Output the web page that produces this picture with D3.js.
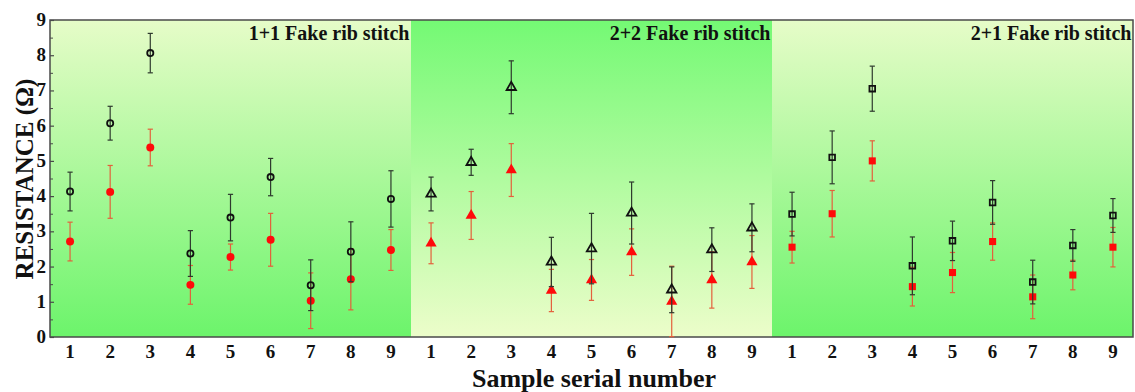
<!DOCTYPE html>
<html>
<head>
<meta charset="utf-8">
<script src="https://cdn.jsdelivr.net/npm/d3@7/dist/d3.min.js"></script>
<style>
  html, body { margin: 0; padding: 0; background: #fff; }
  svg { display: block; }
</style>
</head>
<body>
<svg id="chart" width="1135" height="392"></svg>
<script>
// Sample serial numbers within each stitch group
const samples = [1, 2, 3, 4, 5, 6, 7, 8, 9];
const panelTitles = ["1+1 Fake rib stitch", "2+2 Fake rib stitch", "2+1 Fake rib stitch"];
const yTicks = [0, 1, 2, 3, 4, 5, 6, 7, 8, 9];

// Resistance (Ω), black open markers, with standard deviations
const blackMean = [
  [4.13, 6.07, 8.06, 2.37, 3.39, 4.54, 1.47, 2.42, 3.92],
  [4.06, 4.96, 7.09, 2.13, 2.51, 3.52, 1.34, 2.48, 3.10],
  [3.49, 5.10, 7.05, 2.02, 2.73, 3.82, 1.56, 2.60, 3.45]
];
const blackErr = [
  [0.55, 0.48, 0.56, 0.65, 0.66, 0.53, 0.72, 0.85, 0.80],
  [0.48, 0.37, 0.75, 0.70, 1.00, 0.88, 0.65, 0.62, 0.68],
  [0.62, 0.75, 0.64, 0.82, 0.56, 0.62, 0.62, 0.45, 0.48]
];
// Resistance (Ω), red filled markers, with standard deviations
const redMean = [
  [2.71, 4.12, 5.38, 1.48, 2.27, 2.76, 1.03, 1.64, 2.47],
  [2.66, 3.45, 4.74, 1.32, 1.62, 2.41, 1.01, 1.62, 2.13],
  [2.55, 3.50, 5.00, 1.43, 1.83, 2.71, 1.14, 1.76, 2.55]
];
const redErr = [
  [0.55, 0.75, 0.52, 0.55, 0.37, 0.75, 0.79, 0.87, 0.58],
  [0.58, 0.68, 0.75, 0.60, 0.58, 0.66, 1.00, 0.80, 0.75],
  [0.45, 0.66, 0.57, 0.55, 0.57, 0.53, 0.62, 0.42, 0.56]
];
const markerShapes = [d3.symbolCircle, d3.symbolTriangle, d3.symbolSquare];

const FONT = "'Liberation Serif', 'DejaVu Serif', serif";
const svg = d3.select("#chart");
const plotLeft = 50, plotRight = 1133, plotTop = 20, plotBottom = 337;
const nPanels = panelTitles.length;

function label(sel) {
  return sel.attr("font-family", FONT).style("font-family", FONT)
    .attr("font-weight", "bold").attr("fill", "#111");
}

// One continuous x axis: panel p, sample s sits at p*9 + s
const x = d3.scaleLinear().domain([0.5, nPanels * samples.length + 0.5]).range([plotLeft, plotRight]);
const y = d3.scaleLinear().domain([0, 9]).range([plotBottom, plotTop]);

// Background gradients
const defs = svg.append("defs");
const lightTop = defs.append("linearGradient").attr("id", "lightTop")
  .attr("x1", 0).attr("y1", 0).attr("x2", 0).attr("y2", 1);
lightTop.append("stop").attr("offset", "0%").attr("stop-color", "#e6fcc8");
lightTop.append("stop").attr("offset", "100%").attr("stop-color", "#6cf46b");
const greenTop = defs.append("linearGradient").attr("id", "greenTop")
  .attr("x1", 0).attr("y1", 0).attr("x2", 0).attr("y2", 1);
greenTop.append("stop").attr("offset", "0%").attr("stop-color", "#74f974");
greenTop.append("stop").attr("offset", "100%").attr("stop-color", "#ecfdca");

panelTitles.forEach((t, p) => {
  const x0 = x(p * samples.length + 0.5), x1 = x((p + 1) * samples.length + 0.5);
  svg.append("rect")
    .attr("x", x0).attr("y", plotTop).attr("width", x1 - x0).attr("height", plotBottom - plotTop)
    .attr("fill", p === 1 ? "url(#greenTop)" : "url(#lightTop)");
  svg.append("text")
    .attr("x", x1 - 1.5).attr("y", 40)
    .attr("text-anchor", "end")
    .attr("font-size", 20)
    .call(label)
    .text(t);
});

// Frame
svg.append("rect")
  .attr("x", plotLeft).attr("y", plotTop).attr("width", plotRight - plotLeft).attr("height", plotBottom - plotTop)
  .attr("fill", "none").attr("stroke", "#4a4a4a").attr("stroke-width", 1.5);

// Y axis: inward ticks with minor ticks at halves
const yAxis = d3.axisRight(y).tickValues(yTicks).tickSize(4).tickFormat("");
const yAx = svg.append("g").attr("transform", `translate(${plotLeft},0)`).call(yAxis);
yAx.select(".domain").remove();
yAx.selectAll("line").attr("stroke", "#4a4a4a").attr("stroke-width", 1.2);
const yMinor = d3.axisRight(y).tickValues(yTicks.slice(0, -1).map(v => v + 0.5)).tickSize(3).tickFormat("");
const yMi = svg.append("g").attr("transform", `translate(${plotLeft},0)`).call(yMinor);
yMi.select(".domain").remove();
yMi.selectAll("line").attr("stroke", "#4a4a4a").attr("stroke-width", 1);

svg.append("g").selectAll("text").data(yTicks).join("text")
  .attr("x", plotLeft - 4).attr("y", d => y(d) + 6)
  .attr("text-anchor", "end").attr("font-size", 19)
  .call(label)
  .text(d => d);

// X tick labels
const xPositions = d3.range(nPanels).flatMap(p => samples.map(s => ({ p, s, pos: p * samples.length + s })));
svg.append("g").selectAll("text").data(xPositions).join("text")
  .attr("x", d => x(d.pos)).attr("y", 358)
  .attr("text-anchor", "middle").attr("font-size", 19)
  .call(label)
  .text(d => d.s);

// Axis titles
svg.append("text")
  .attr("x", 594).attr("y", 387)
  .attr("text-anchor", "middle").attr("font-size", 26)
  .call(label)
  .text("Sample serial number");
svg.append("text")
  .attr("transform", `translate(33, 179) rotate(-90)`)
  .attr("text-anchor", "middle").attr("font-size", 25)
  .call(label)
  .text("RESISTANCE (Ω)");

// Data series
function drawSeries(means, errs, barColor, filled, markerColor) {
  means.forEach((vals, p) => {
    const g = svg.append("g");
    const pts = vals.map((v, i) => ({ pos: p * samples.length + samples[i], v, e: errs[p][i] }));
    const bars = g.selectAll("g.err").data(pts).join("g").attr("class", "err")
      .attr("stroke", barColor).attr("stroke-width", 1.2).attr("fill", "none");
    bars.append("line")
      .attr("x1", d => x(d.pos)).attr("x2", d => x(d.pos))
      .attr("y1", d => y(Math.max(0, d.v - d.e))).attr("y2", d => y(d.v + d.e));
    bars.append("line")
      .attr("x1", d => x(d.pos) - 2.6).attr("x2", d => x(d.pos) + 2.6)
      .attr("y1", d => y(d.v + d.e)).attr("y2", d => y(d.v + d.e));
    bars.filter(d => d.v - d.e > 0).append("line")
      .attr("x1", d => x(d.pos) - 2.6).attr("x2", d => x(d.pos) + 2.6)
      .attr("y1", d => y(d.v - d.e)).attr("y2", d => y(d.v - d.e));
    const size = filled ? [50, 54, 50][p] : [30, 38, 32][p];
    g.selectAll("path.mk").data(pts).join("path").attr("class", "mk")
      .attr("transform", d => `translate(${x(d.pos)},${y(d.v)})`)
      .attr("d", d3.symbol().type(markerShapes[p]).size(size))
      .attr("fill", filled ? markerColor : "none")
      .attr("stroke", filled ? "none" : markerColor)
      .attr("stroke-width", 1.8);
  });
}

drawSeries(redMean, redErr, "#e4603c", true, "#ff0a0a");
drawSeries(blackMean, blackErr, "#2e3a2e", false, "#111");
</script>
</body>
</html>
